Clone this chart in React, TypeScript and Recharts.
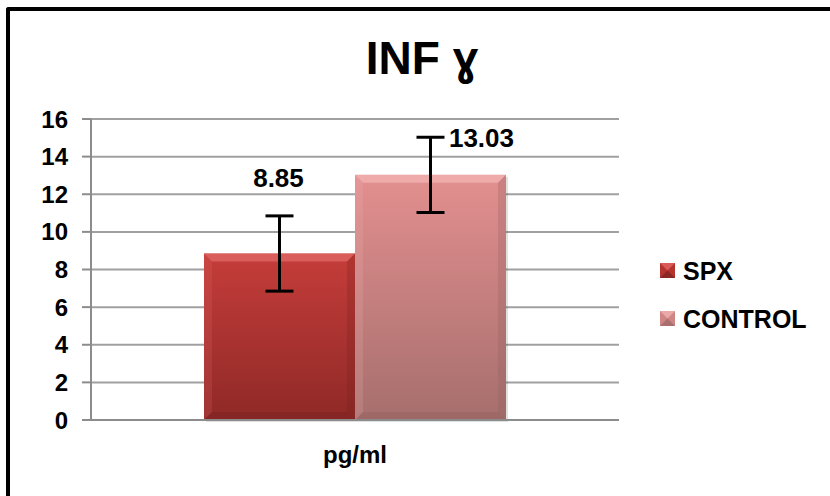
import React from 'react'
import { BarChart, Bar, XAxis, YAxis, CartesianGrid, ErrorBar, LabelList } from 'recharts'

const categories = ['pg/ml']
const spxValues = [8.85]
const controlValues = [13.03]
const spxErrors = [2]
const controlErrors = [2]
const yTicks = [0, 2, 4, 6, 8, 10, 12, 14, 16]
const seriesNames = ['SPX', 'CONTROL']

const data = categories.map((name, i) => ({
  name,
  SPX: spxValues[i],
  CONTROL: controlValues[i],
  spxErr: spxErrors[i],
  controlErr: controlErrors[i],
}))

const FONT = '"Liberation Sans", Arial, sans-serif'
const AXIS_GRAY = '#8c8c8c'

const palette: Record<string, { grad: string; light: string; dark: string }> = {
  SPX: { grad: 'url(#spxGrad)', light: '#e06a67', dark: '#6e1f1d' },
  CONTROL: { grad: 'url(#ctrlGrad)', light: '#f2b4b3', dark: '#8a5b5a' },
}

const bevelBar = (key: string) => (props: any) => {
  const { x, y, width, height } = props
  if (!height || height <= 0) return null
  const b = 8
  const c = palette[key]
  return (
    <g>
      <rect x={x + 2} y={y + 2} width={width} height={height} fill="#000" opacity={0.12} />
      <rect x={x} y={y} width={width} height={height} fill={c.grad} />
      <polygon
        points={`${x},${y} ${x + width},${y} ${x + width - b},${y + b} ${x + b},${y + b}`}
        fill={c.light}
        opacity={0.75}
      />
      <polygon
        points={`${x + width},${y} ${x + width},${y + height} ${x + width - b},${y + height - b} ${x + width - b},${y + b}`}
        fill={c.dark}
        opacity={0.25}
      />
      <polygon
        points={`${x},${y + height} ${x + width},${y + height} ${x + width - b},${y + height - b} ${x + b},${y + height - b}`}
        fill={c.dark}
        opacity={0.3}
      />
      <polygon
        points={`${x},${y} ${x + b},${y + b} ${x + b},${y + height - b} ${x},${y + height}`}
        fill={c.light}
        opacity={0.2}
      />
    </g>
  )
}

const labelStyle = { fontFamily: FONT, fontWeight: 700, fontSize: 26, fill: '#000' }

const spxLabel = (p: any) => (
  <text x={p.x + p.width / 2 - 1} y={p.y - 67} textAnchor="middle" style={labelStyle}>
    {Number(p.value).toFixed(2)}
  </text>
)

const ctrlLabel = (p: any) => (
  <text x={p.x + p.width / 2 + 51} y={p.y - 28} textAnchor="middle" style={labelStyle}>
    {Number(p.value).toFixed(2)}
  </text>
)

const LegendBox = () => (
  <div style={{ fontFamily: FONT, fontWeight: 700, fontSize: 25, color: '#000' }}>
    {seriesNames.map((s, i) => (
      <div key={s} style={{ display: 'flex', alignItems: 'center', height: 48 }}>
        <svg width={16} height={16} style={{ marginRight: 7 }}>
          <rect x={0} y={0} width={15} height={15} fill={i === 0 ? '#b5332f' : '#cf8584'} />
          <polygon points="0,0 15,0 7.5,7.5" fill={i === 0 ? '#d95a57' : '#eaa9a8'} />
          <polygon points="0,15 15,15 7.5,7.5" fill={i === 0 ? '#8a2624' : '#a86f6e'} />
        </svg>
        <span>{s}</span>
      </div>
    ))}
  </div>
)

export default function App() {
  return (
    <div style={{ position: 'fixed', left: 0, top: 0, width: 830, height: 496, overflow: 'hidden', background: '#fff' }}>
      <div
        style={{
          position: 'absolute',
          left: 6,
          top: 7,
          width: 900,
          height: 600,
          borderLeft: '4px solid #000',
          borderTop: '4px solid #000',
          borderTopLeftRadius: 3,
        }}
      />
      <div
        style={{
          position: 'absolute',
          left: 222,
          top: 35,
          width: 400,
          textAlign: 'center',
          fontFamily: FONT,
          fontWeight: 700,
          fontSize: 46,
          lineHeight: 1,
          color: '#000',
        }}
      >
        INF ɣ
      </div>
      <div style={{ position: 'absolute', left: 0, top: 0 }}>
        <BarChart
          width={830}
          height={496}
          data={data}
          margin={{ top: 119, right: 211, bottom: 74, left: 0 }}
          barCategoryGap="21.4%"
          barGap={0}
        >
          <defs>
            <linearGradient id="spxGrad" x1="0" y1="0" x2="0" y2="1">
              <stop offset="0%" stopColor="#c53d3a" />
              <stop offset="100%" stopColor="#8f2927" />
            </linearGradient>
            <linearGradient id="ctrlGrad" x1="0" y1="0" x2="0" y2="1">
              <stop offset="0%" stopColor="#e38f8f" />
              <stop offset="100%" stopColor="#a66f6d" />
            </linearGradient>
          </defs>
          <CartesianGrid vertical={false} stroke="#a0a0a0" strokeWidth={2} />
          <XAxis
            dataKey="name"
            height={1}
            tickLine={false}
            tickSize={0}
            tickMargin={26}
            axisLine={{ stroke: AXIS_GRAY, strokeWidth: 2 }}
            tick={{ fontFamily: FONT, fontWeight: 700, fontSize: 24, fill: '#000' }}
          />
          <XAxis
            xAxisId="edge"
            type="number"
            domain={[0, 1]}
            ticks={[0, 1]}
            height={1}
            tick={false}
            axisLine={false}
            tickSize={7}
            tickLine={{ stroke: AXIS_GRAY, strokeWidth: 2 }}
          />
          <YAxis
            width={91}
            domain={[0, 16]}
            ticks={yTicks}
            interval={0}
            tickSize={9}
            tickMargin={14}
            axisLine={{ stroke: AXIS_GRAY, strokeWidth: 2 }}
            tickLine={{ stroke: AXIS_GRAY, strokeWidth: 2 }}
            tick={{ fontFamily: FONT, fontWeight: 700, fontSize: 24, fill: '#000' }}
          />
          <Bar dataKey="SPX" name="SPX" shape={bevelBar('SPX')} isAnimationActive={false}>
            <ErrorBar dataKey="spxErr" width={14} strokeWidth={3} stroke="#000" />
            <LabelList dataKey="SPX" content={spxLabel} />
          </Bar>
          <Bar dataKey="CONTROL" name="CONTROL" shape={bevelBar('CONTROL')} isAnimationActive={false}>
            <ErrorBar dataKey="controlErr" width={14} strokeWidth={3} stroke="#000" />
            <LabelList dataKey="CONTROL" content={ctrlLabel} />
          </Bar>
        </BarChart>
      </div>
      <div style={{ position: 'absolute', left: 660, top: 247 }}>
        <LegendBox />
      </div>
    </div>
  )
}
